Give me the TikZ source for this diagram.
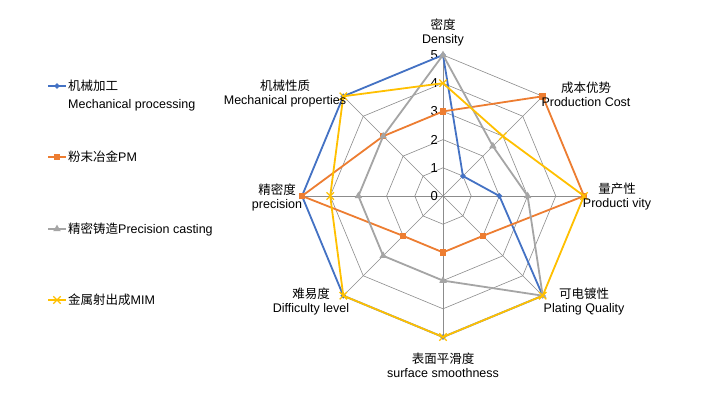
\documentclass[tikz,border=0pt]{standalone}
\usepackage{fontspec}
\setmainfont{Liberation Sans}
\newfontfamily\cjk{Noto Sans CJK SC}
\usetikzlibrary{calc,shapes.geometric,shapes.misc}
\definecolor{sblue}{HTML}{4472C4}
\definecolor{sorange}{HTML}{ED7D31}
\definecolor{sgray}{HTML}{A5A5A5}
\definecolor{syellow}{HTML}{FFC000}
\definecolor{gridc}{HTML}{8C8C8C}
\newcommand{\zh}[1]{{\cjk #1}}
\begin{document}
\begin{tikzpicture}[x=1pt,y=-1pt,font=\fontsize{12.5pt}{14pt}\selectfont,
  lbl/.style={align=center,inner sep=0pt},
  ser/.style={line width=1.8pt,line join=round},
  mb/.style={diamond,fill=sblue,inner sep=0pt,minimum size=6pt},
  mo/.style={rectangle,fill=sorange,inner sep=0pt,minimum size=6.5pt},
  mg/.style={isosceles triangle,shape border rotate=90,fill=sgray,inner sep=0pt,minimum size=6.5pt,isosceles triangle apex angle=60},
  my/.style={cross out,draw=syellow,line width=1.3pt,inner sep=0pt,minimum size=6pt},
  leg/.style={anchor=west,inner sep=0pt}]
\useasboundingbox (0,0) rectangle (719,403);
\fill[white] (0,0) rectangle (719,403);
\coordinate (c) at (443,196);
% grid
\foreach \k in {1,...,5}{
  \draw[gridc,line width=0.6pt] ($(c)+(90:{\k*28.2pt})$)
    \foreach \a in {45,0,-45,-90,-135,180,135}{ -- ($(c)+(\a:{\k*28.2pt})$)} -- cycle;
}
\foreach \a in {90,45,...,-225}{
  \draw[gridc,line width=0.6pt] (c) -- ($(c)+(\a:{5*28.2pt})$);
}
% ticks
\foreach \k in {0,...,5}{
  \node[anchor=east,inner sep=0pt,font=\fontsize{13pt}{13pt}\selectfont] (t\k) at ($(c)+(-5pt,{\k*28.2pt})$) {\k};
}
% data
\def\series#1#2{\foreach \v [count=\i from 0] in {#2}{\coordinate (#1\i) at ($(c)+({90-45*\i}:{\v*28.2pt})$);}}
\series{b}{5,1,2,5,5,5,5,5}
\series{o}{3,5,5,2,2,2,5,3}
\series{g}{5,2.5,3,5,3,3,3,3}
\series{y}{4,3,5,5,5,5,4,5}
\draw[ser,sblue] (b0)--(b1)--(b2)--(b3)--(b4)--(b5)--(b6)--(b7)--cycle;
\foreach \i in {0,...,7}{\node[mb] at (b\i){};}
\draw[ser,sorange] (o0)--(o1)--(o2)--(o3)--(o4)--(o5)--(o6)--(o7)--cycle;
\foreach \i in {0,...,7}{\node[mo] at (o\i){};}
\draw[ser,sgray] (g0)--(g1)--(g2)--(g3)--(g4)--(g5)--(g6)--(g7)--cycle;
\foreach \i in {0,...,7}{\node[mg] at (g\i){};}
\draw[ser,syellow] (y0)--(y1)--(y2)--(y3)--(y4)--(y5)--(y6)--(y7)--cycle;
\foreach \i in {0,...,7}{\node[my] at (y\i){};}
% axis labels
\node[lbl] (l0) at (443,32) {\zh{密度}\\[0pt]Density};
\node[lbl] (l1) at (586,94) {\zh{成本优势}\\[0pt]Production Cost};
\node[lbl] (l2) at (617,197) {\zh{量产性}\\[0pt]Producti vity};
\node[lbl] (l3) at (584,302) {\zh{可电镀性}\\[0pt]Plating Quality};
\node[lbl] (l4) at (443,365) {\zh{表面平滑度}\\[0pt]surface smoothness};
\node[lbl] (l5) at (311,302) {\zh{难易度}\\[0pt]Difficulty level};
\node[lbl] (l6) at (277,197) {\zh{精密度}\\[0pt]precision};
\node[lbl] (l7) at (285,94) {\zh{机械性质}\\[0pt]Mechanical properties};
% legend
\draw[sblue,line width=1.8pt] (48,86) -- (66,86); \node[mb] (lb) at (57,86){};
\node[leg] (tb) at (68,86) {\zh{机械加工}};
\node[leg] (tb2) at (68,105) {Mechanical processing};
\draw[sorange,line width=1.8pt] (48,157) -- (66,157); \node[mo] (lo) at (57,157){};
\node[leg] (to) at (68,157) {\zh{粉末冶金}PM};
\draw[sgray,line width=1.8pt] (48,229) -- (66,229); \node[mg] (lg) at (57,229){};
\node[leg] (tg) at (68,229) {\zh{精密铸造}Precision casting};
\draw[syellow,line width=1.8pt] (48,300) -- (66,300); \node[my] (ly) at (57,300){};
\node[leg] (ty) at (68,300) {\zh{金属射出成}MIM};
\end{tikzpicture}
\end{document}
